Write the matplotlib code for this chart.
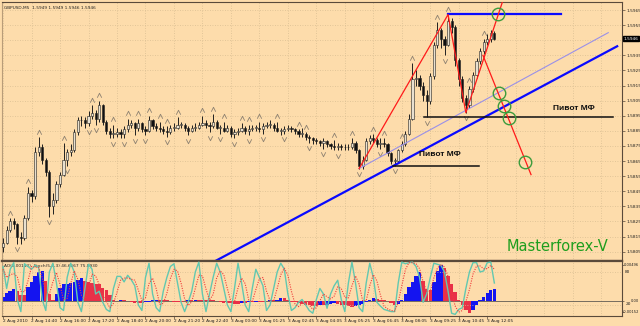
import matplotlib.pyplot as plt
import numpy as np

# GBPUSD M5, drawn as 10-minute candles; prices in pips above 1.5800
first_open = 8
close_p = [11, 19, 25, 23, 15, 14, 27, 44, 42, 71,
           74, 66, 58, 35, 39, 50, 56, 66, 71, 72,
           84, 92, 92, 90, 95, 97, 93, 102, 91, 85,
           83, 83, 84, 83, 86, 89, 90, 87, 90, 86,
           85, 92, 88, 87, 86, 85, 84, 87, 87, 89,
           89, 87, 85, 87, 87, 89, 90, 89, 88, 91,
           87, 87, 85, 87, 83, 84, 85, 87, 85, 86,
           87, 87, 86, 88, 89, 89, 87, 85, 85, 86,
           87, 86, 85, 83, 83, 81, 80, 79, 78, 77,
           78, 76, 75, 74, 75, 74, 74, 74, 77, 72,
           62, 66, 78, 80, 79, 76, 77, 76, 70, 65,
           65, 72, 76, 83, 93, 119, 120, 115, 109, 105,
           121, 142, 152, 146, 142, 158, 154, 132, 119, 107,
           102, 113, 122, 131, 138, 144, 146, 150, 146]
high_p = [14, 22, 27, 27, 24, 18, 29, 48, 46, 74,
          81, 76, 67, 59, 44, 52, 58, 77, 73, 76,
          86, 94, 95, 94, 98, 102, 99, 105, 103, 92,
          87, 89, 87, 86, 88, 93, 92, 91, 93, 91,
          88, 95, 93, 90, 91, 88, 88, 89, 90, 94,
          91, 90, 88, 89, 90, 91, 95, 92, 91, 96,
          92, 89, 91, 89, 88, 86, 87, 90, 88, 89,
          89, 89, 91, 90, 91, 92, 90, 91, 87, 88,
          89, 88, 87, 86, 87, 84, 82, 81, 80, 79,
          80, 79, 77, 79, 77, 76, 76, 76, 80, 78,
          73, 68, 80, 82, 83, 80, 80, 80, 77, 71,
          67, 73, 78, 85, 96, 130, 125, 122, 117, 112,
          123, 144, 157, 153, 148, 162, 160, 155, 133, 121,
          109, 115, 124, 133, 140, 146, 149, 152, 151]
low_p = [5, 10, 18, 20, 10, 10, 13, 26, 38, 40,
         68, 63, 55, 28, 30, 37, 48, 55, 62, 68,
         71, 82, 88, 87, 88, 93, 89, 91, 89, 83,
         80, 80, 81, 80, 80, 84, 87, 82, 85, 84,
         82, 84, 86, 85, 84, 83, 81, 83, 85, 86,
         87, 85, 82, 84, 85, 86, 88, 87, 84, 87,
         86, 83, 84, 84, 81, 80, 82, 84, 83, 82,
         85, 85, 84, 83, 87, 87, 85, 84, 82, 83,
         85, 84, 83, 81, 81, 79, 77, 76, 76, 75,
         73, 74, 73, 72, 72, 72, 72, 72, 73, 70,
         60, 60, 65, 76, 77, 74, 73, 74, 68, 63,
         62, 64, 71, 75, 82, 92, 115, 112, 105, 94,
         103, 119, 140, 140, 135, 141, 150, 128, 115, 104,
         97, 100, 111, 120, 129, 136, 142, 144, 145]
frac_up = [2, 7, 10, 17, 25, 27, 31, 35, 38, 41, 44, 46, 49, 56, 59, 62, 67, 69,
           72, 77, 83, 85, 93, 98, 104, 107, 112, 115, 122, 125, 131, 135]
frac_dn = [4, 13, 18, 24, 26, 31, 34, 37, 40, 46, 52, 58, 61, 65, 69, 73, 79,
           86, 90, 94, 100, 106, 110, 119, 124, 130]

# accelerator histogram (units of 0.0001) and stochastic 5,3,3
ac_p = [6, 11, 14, 16, 14, 8, 8, 19, 26, 34,
        40, 41, 28, 10, 2, 10, 18, 23, 24, 25,
        26, 29, 31, 28, 26, 25, 24, 23, 18, 15,
        8, 2, 0, 1, 1, 0, -2, -3, -3, -3,
        -2, -1, 1, 2, 2, 1, 1, 0, -1, -1,
        -1, 0, 1, 1, 2, 2, 2, 2, 1, 1,
        0, -2, -3, -3, -3, -4, -4, -3, -3, -2,
        -2, -1, -1, -1, 0, 1, 1, 2, 4, 4,
        2, -1, -2, -3, -4, -5, -6, -7, -7, -6,
        -6, -5, -4, -3, -4, -5, -6, -7, -8, -7,
        -6, -4, -2, 2, 4, 3, 2, 1, 0, -3,
        -5, -4, 2, 10, 19, 26, 34, 40, 28, 17,
        15, 26, 42, 50, 45, 35, 24, 12, 1, -6,
        -13, -17, -13, -6, 2, 6, 11, 15, 16]
stoch_main = [90, 50, 85, 97, 30, 8, 95, 90, 85, 92,
              88, 30, 10, 80, 96, 60, 15, 10, 70, 96,
              80, 25, 8, 50, 94, 85, 40, 45, 25, 12,
              8, 50, 72, 72, 62, 74, 66, 55, 20, 10,
              70, 96, 40, 15, 8, 45, 70, 90, 95, 60,
              25, 8, 25, 45, 80, 98, 40, 8, 40, 70,
              96, 80, 50, 20, 8, 50, 96, 60, 20, 8,
              50, 85, 70, 55, 10, 20, 50, 80, 96, 85,
              40, 10, 15, 25, 30, 20, 10, 5, 30, 50,
              40, 14, 40, 55, 65, 30, 8, 60, 98, 60,
              15, 8, 60, 96, 70, 25, 18, 12, 10, 8,
              8, 60, 98, 95, 97, 98, 90, 70, 25, 40,
              70, 96, 94, 92, 80, 45, 5, 3, 12, 15,
              50, 80, 97, 97, 80, 82, 97, 98, 60]
stoch_sig = [85, 70, 75, 77, 71, 45, 44, 64, 90, 89,
             88, 70, 43, 40, 62, 79, 57, 28, 32, 59,
             82, 67, 38, 28, 51, 76, 73, 57, 37, 27,
             15, 23, 43, 65, 69, 69, 67, 65, 47, 28,
             33, 59, 69, 50, 21, 23, 41, 68, 85, 82,
             60, 31, 19, 26, 50, 74, 73, 49, 29, 39,
             69, 82, 75, 50, 26, 26, 51, 69, 59, 29,
             26, 48, 68, 70, 45, 28, 27, 50, 75, 87,
             74, 45, 22, 17, 23, 25, 20, 12, 15, 28,
             40, 35, 31, 36, 53, 50, 34, 33, 55, 73,
             58, 28, 28, 55, 75, 64, 38, 18, 13, 10,
             9, 25, 55, 84, 97, 97, 95, 86, 62, 45,
             45, 69, 87, 94, 89, 72, 43, 18, 7, 10,
             26, 48, 76, 91, 91, 86, 86, 92, 85]

time_labels = ["2 Aug 2010", "2 Aug 14:40", "2 Aug 16:00", "2 Aug 17:20", "2 Aug 18:40",
               "2 Aug 20:00", "2 Aug 21:20", "2 Aug 22:40", "3 Aug 00:00", "3 Aug 01:25",
               "3 Aug 02:45", "3 Aug 04:05", "3 Aug 05:25", "3 Aug 06:45", "3 Aug 08:05",
               "3 Aug 09:25", "3 Aug 10:45", "3 Aug 12:05"]
price_ticks = [165, 155, 135, 125, 115, 105, 95, 85, 75, 65, 55, 45, 35, 25, 15, 5]
last_price = 146
ind_ticks = [49.6, 0, -15.2]
ind_labels = ["0.00496", "0.00", "-0.00152"]

BG = "#fddcab"
GRID = "#d8bd92"
AXC = "#5a4a3a"
SMALL = 3.1

n = len(close_p)
x = np.arange(n)
opens = [first_open] + close_p[:-1]

fig = plt.figure(figsize=(6.4, 3.26), dpi=100, facecolor=BG)
ax = fig.add_axes([2 / 640, 1 - 261 / 326, 620 / 640, 259 / 326])
ax2 = fig.add_axes([2 / 640, 1 - 316 / 326, 620 / 640, 55 / 326], sharex=ax)
ax3 = ax2.twinx()
xmin, xmax = -0.3, 620 / 3.56 - 0.3

for a in (ax, ax2):
    a.set_facecolor(BG)
    for s in a.spines.values():
        s.set_color(AXC)
        s.set_linewidth(0.8)
    a.spines["left"].set_color("#b89c78")
    a.yaxis.tick_right()
    a.tick_params(left=False, labelleft=False, bottom=False, labelbottom=False,
                  right=True, labelright=True, direction="out", length=2, width=0.5,
                  color=AXC, pad=1)
ax.spines["bottom"].set_linewidth(1.6)
ax2.spines["top"].set_linewidth(1.6)

# grid
grid_x = np.arange(0, xmax, 8)
for a in (ax, ax2):
    for gx in grid_x:
        a.axvline(gx, color=GRID, lw=0.6, ls=(0, (1, 2)), zorder=0)
for gy in price_ticks + [145]:
    ax.axhline(gy, color=GRID, lw=0.6, ls=(0, (1, 2)), zorder=0)

# candles
for i in range(n):
    o, c, h, l = opens[i], close_p[i], high_p[i], low_p[i]
    h = max(h, o, c)
    l = min(l, o, c)
    ax.vlines(x[i], l, h, color="#202020", lw=0.7, zorder=3)
    bull = c >= o
    ax.bar(x[i], max(abs(c - o), 0.4), bottom=min(o, c), width=0.62,
           color="#e8e0d0" if bull else "#101010", edgecolor="#202020",
           linewidth=0.4, zorder=4)

# fractals
up_v = [(-1, -1), (0, 1), (1, -1)]
dn_v = [(-1, 1), (0, -1), (1, 1)]
ax.plot(frac_up, [high_p[i] + 3.5 for i in frac_up], ls="none",
        marker=up_v, ms=3.2, mfc="none", mec="#8c8070", mew=0.6, zorder=5)
ax.plot(frac_dn, [low_p[i] - 3.5 for i in frac_dn], ls="none",
        marker=dn_v, ms=3.2, mfc="none", mec="#8c8070", mew=0.6, zorder=5)

# analysis lines
ax.plot([59, 172.5], [-2, 141], color="#0a0aff", lw=1.6, zorder=6)
ax.plot([100, 170], [60, 150], color="#9a90e8", lw=0.8, zorder=6)
ax.plot([100, 125, 130, 140.5], [60, 162, 97, 172], color="#ff1a1a", lw=0.9, zorder=7)
ax.plot([134.8, 148.3], [135, 56], color="#ff1a1a", lw=0.9, zorder=7)
ax.plot([125, 156.7], [162.3, 162.3], color="#0a0aff", lw=1.6, zorder=6)
ax.plot([109.6, 133.7], [62, 62], color="#101010", lw=1.1, zorder=6)
ax.plot([118.3, 171.3], [94, 94], color="#101010", lw=1.1, zorder=6)
ax.text(116.9, 69, "Пивот МФ", fontsize=6, fontweight="bold", color="#101010",
        family="Liberation Sans", va="center", ha="left", zorder=8)
ax.text(154.5, 100, "Пивот МФ", fontsize=6, fontweight="bold", color="#101010",
        family="Liberation Sans", va="center", ha="left", zorder=8)
circ_x = [139.0, 139.3, 140.7, 142.1, 146.6]
circ_y = [162.4, 110.0, 101.4, 93.5, 64.3]
ax.plot(circ_x, circ_y, ls="none", marker="o", ms=9, mfc="none", mec="#3c9c3c",
        mew=1.0, zorder=9)

ax.text(141.5, 8.5, "Masterforex-V", fontsize=10.5, color="#1e9e1e",
        family="DejaVu Sans", va="center", ha="left", zorder=8)

ax.set_xlim(xmin, xmax)
ax.set_ylim(-1.2, 170.3)
ax.set_yticks(price_ticks)
ax.set_yticklabels(["%.4f" % (1.58 + t / 1e4) for t in price_ticks], fontsize=SMALL, color="#202020")
ax.text(xmax + 0.5, last_price, "%.4f" % (1.58 + last_price / 1e4), fontsize=SMALL,
        color="white", va="center", ha="left", zorder=10, clip_on=False,
        bbox=dict(boxstyle="square,pad=0.12", fc="black", ec="black"))
ax.text(0.004, 0.985, "GBPUSD,M5  1.5949 1.5949 1.5946 1.5946", transform=ax.transAxes,
        fontsize=SMALL, color="#202020", va="top", ha="left")

# indicator pane
cols = ["#1414f0" if i > 0 and ac_p[i] > ac_p[i - 1] else "#e83048" for i in range(n)]
cols[0] = "#1414f0"
ax2.bar(x, ac_p, width=0.95, color=cols, zorder=2)
ax2.axhline(0, color="#404040", lw=0.5, zorder=1)
ax2.set_ylim(-20.7, 55.1)
ax2.set_yticks(ind_ticks)
ax2.yaxis.tick_right()
ax2.tick_params(axis="y", left=False, labelleft=False, right=True, labelright=False,
                length=1.5)
for t, lab in zip(ind_ticks, ind_labels):
    ax2.annotate(lab, xy=(1, t), xycoords=("axes fraction", "data"),
                 xytext=(639.3 / 640, 0), textcoords=("figure fraction", "offset points"),
                 fontsize=2.6, color="#202020", va="center", ha="right", annotation_clip=False)
ax3.set_ylim(0, 100)
ax3.axis("off")
for lv in (80, 20):
    ax3.axhline(lv, color=GRID, lw=0.6, ls=(0, (1, 2)), zorder=0)
ax3.plot(x, stoch_main, color="#62c8b0", lw=1.0, zorder=3)
ax3.plot(x, stoch_sig, color="#f03c3c", lw=0.8, ls=(0, (1, 1.2)), zorder=3)
ax3.text(xmax + 0.9, 80, "80", fontsize=SMALL, color="#202020", va="center", ha="left", clip_on=False)
ax3.text(xmax + 0.9, 21, "20", fontsize=SMALL, color="#202020", va="center", ha="left", clip_on=False)
ax2.text(0.003, 0.95, "AO(0.00152)  Stoch(5,3,3) 46.6667 75.8930", transform=ax2.transAxes,
         fontsize=SMALL, color="#202020", va="top", ha="left")

# time axis
ax2.set_xticks(np.arange(len(time_labels)) * 8)
ax2.tick_params(axis="x", bottom=True, length=2, width=0.5, color=AXC, direction="out")
for k, lab in enumerate(time_labels):
    ax2.text(k * 8 - 0.1, -0.05, lab, transform=ax2.get_xaxis_transform(), fontsize=SMALL,
             color="#202020", ha="left", va="top", clip_on=False)

fig.savefig("out.png", dpi=100, facecolor=BG)
